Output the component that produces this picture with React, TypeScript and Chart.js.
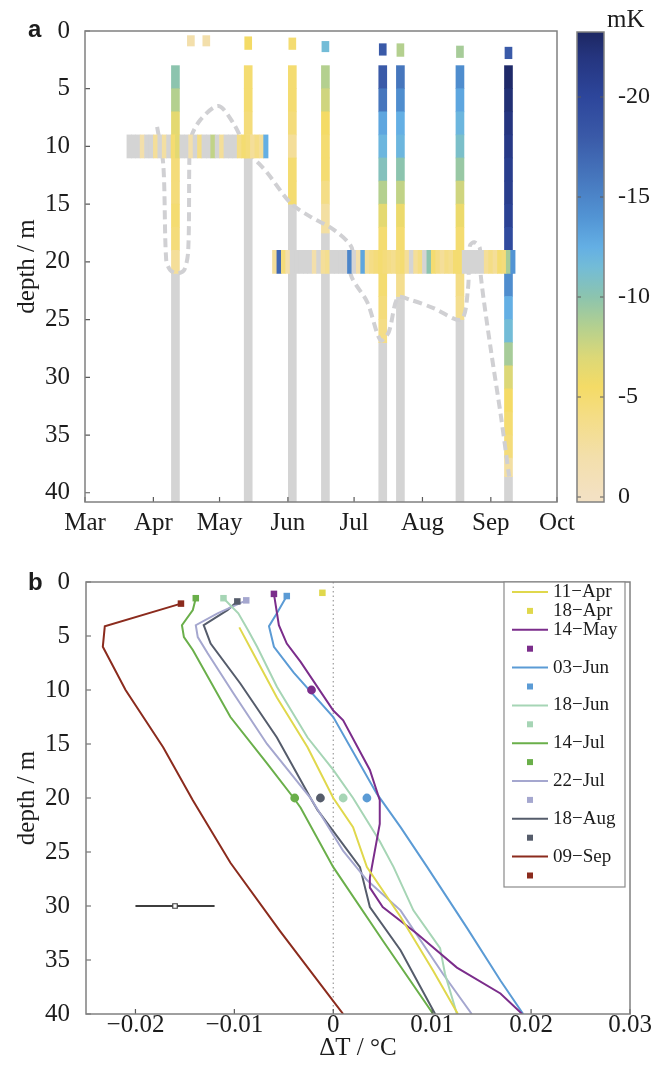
import React, { useEffect, useRef } from 'react';
import { Chart, registerables } from 'chart.js';

Chart.register(...registerables);

const SERIF = "'Liberation Serif', 'Times New Roman', Times, serif";
const SANS = "'Liberation Sans', Arial, Helvetica, sans-serif";
const TEXT = '#1c1c1c';
const FRAME = '#808080';
const GRAY = '#d4d4d4';

// ---------------- Panel a : data ----------------
const monthLabels = ['Mar', 'Apr', 'May', 'Jun', 'Jul', 'Aug', 'Sep', 'Oct'];
const monthDays = [0, 31, 61, 92, 122, 153, 184, 214]; // days since 1 March
const depthTicksA = [0, 5, 10, 15, 20, 25, 30, 35, 40];
const depthMaxA = 40.8;

// vertical profiles (date = days since 1 Mar)
const profileDays = [41, 74, 94, 109, 135, 143, 170, 192];
const colouredBottom = [21, 11, 15, 17.5, 27, 23, 25, 38.6];
const cellEdges = [3, 5, 7, 9, 11, 13, 15, 17, 19, 21, 23, 25, 27, 29, 31, 33, 35, 37, 39];
const cellsApr11 = [-10, -8.5, -6.5, -5.5, -4.5, -4.5, -5, -4.5, -3];
const cellsMay14 = [-5, -5, -4.5, -3.5];
const cellsJun03 = [-5, -5, -4.5, -3, -5, -5];
const cellsJun18 = [-8.5, -7.5, -5.5, -5, -5, -4, -2.5];
const cellsJul14 = [-18, -16, -13, -12, -10.5, -8.5, -6.5, -5, -5, -5, -4.5, -4];
const cellsJul22 = [-16, -14.5, -12.5, -12, -10, -8, -6, -5, -5, -3.5];
const cellsAug18 = [-14.5, -13, -12, -11, -9.5, -7.5, -6, -5, -5, -4, -3.5];
const cellsSep09 = [-23, -22.5, -22, -21.5, -21, -21, -20.5, -19.5, -17, -14.5, -12.5, -11.5, -9, -7, -5.5, -5, -4.5, -2.5];
const profileCells = [cellsApr11, cellsMay14, cellsJun03, cellsJun18, cellsJul14, cellsJul22, cellsAug18, cellsSep09];

// near-surface sensor
const surfaceDays = [48, 55, 74, 94, 109, 135, 143, 170, 192];
const surfaceTop = [0.4, 0.4, 0.5, 0.6, 0.9, 1.1, 1.1, 1.3, 1.4];
const surfaceBottom = [1.3, 1.3, 1.6, 1.6, 1.8, 2.1, 2.2, 2.3, 2.4];
const surfaceValues = [-2, -2, -5.5, -5, -11.5, -18, -8.5, -9, -18];

// mooring time series bands (2-day cells); null = no signal (grey)
const band1Depth = 10;
const band1StartDay = 19;
const band2Depth = 20;
const band2StartDay = 85;
const bandStepDays = 2;
const bandEdges = [9, 11, 19, 21];
const band1Values = [null, null, null, -2, null, null, -3, null, -2.5, null, -5, -6.5, null, null, -2, null,
  -4, null, null, -8, null, -3, null, null, null, -4, -5, -4.5, -3, -4, -3, -12.5];
const band2Values = [-3, -17, -4.5, -2, null, null, null, null, null, -2, null, -3, -3.5, null, null, null,
  null, -15, null, -2, -13, -3, -4, -4.5, -5, -4.5, -4, -3.5, -4.5, -5, -3, null, -3, -4, null, -10, -5, -4,
  -3, -4, -3.5, -5, -5, null, null, null, null, null, -3, -4, -3, -5, -4.5, -9, -14];

// mixed-layer depth (dashed)
const mldDays = [32.7, 35.5, 36.8, 38.6, 41.8, 45, 46.8, 47.3, 47.7, 52.3, 60.5, 67.3, 73.6, 82.7, 93.2, 102.3,
  112.7, 121, 120.5, 128, 134, 137.7, 141.8, 147.7, 158, 170.5, 173.6, 174.5, 176.5, 179, 179.5, 184, 188.6, 192.3];
const mldDepths = [8.3, 11.6, 19.8, 20.7, 21.0, 20.7, 19, 11.2, 9.4, 7.7, 6.5, 8.0, 10.3, 12.3, 14.9, 16.1,
  17.2, 18.8, 21.1, 23.5, 26.8, 26.1, 23.1, 23.3, 24, 25, 22.4, 18.6, 18.3, 18.8, 21.3, 27.6, 33.4, 38.6];

// colour map (mK)
const cmapValues = [0, -2, -4, -5.5, -7, -8.5, -10, -11.5, -12.5, -14, -16, -18, -20, -22, -23.3];
const cmapColors = ['#f3e1c3', '#f3dfab', '#f4dd86', '#f4db66', '#dcd877', '#b4d08f', '#8cc4ae', '#73bcd7',
  '#64afe4', '#5294d4', '#4676bd', '#3a5aa8', '#2d469b', '#25357f', '#1d2762'];
const colorbarMin = -23.25;
const colorbarMax = 0.25;
const colorbarTicks = [-20, -15, -10, -5, 0];

// ---------------- Panel b : data ----------------
const profileNames = ['11−Apr', '14−May', '03−Jun', '18−Jun', '14−Jul', '22−Jul', '18−Aug', '09−Sep'];
const squareNames = ['18−Apr', '', '', '', '', '', '', ''];
const profileColors = ['#e0d84c', '#7b2d8b', '#5b9bd5', '#a6d5b5', '#6aaf4a', '#a5a7cf', '#555c6b', '#8b2b1d'];

const dtApr11 = [-0.0095, -0.0081, -0.0057, -0.0026, 0, 0.002, 0.0034, 0.0068, 0.0101, 0.0126];
const zApr11 = [4.2, 6.6, 10.7, 15.3, 20, 22.7, 26.4, 31, 36, 40];
const dtMay14 = [-0.006, -0.0055, -0.0047, -0.0033, 0, 0.001, 0.0037, 0.0047, 0.0047, 0.0037, 0.0037, 0.005, 0.0085, 0.0125, 0.0169, 0.0191];
const zMay14 = [1.1, 4.0, 5.7, 7.4, 11.9, 12.8, 17.4, 20.2, 22.4, 27.4, 28.3, 30.1, 32.6, 35.7, 38.1, 40];
const dtJun03 = [-0.0047, -0.0057, -0.0065, -0.006, -0.004, 0, 0.0044, 0.0068, 0.0095, 0.0135, 0.0169, 0.0192];
const zJun03 = [1.3, 2.9, 4.1, 6.0, 8.4, 12.5, 19.6, 22.7, 26.4, 32, 36.9, 40];
const dtJun18 = [-0.0111, -0.0096, -0.0086, -0.0077, -0.0057, -0.0026, 0, 0.002, 0.0047, 0.0061, 0.0081, 0.0108, 0.0113, 0.0125];
const zJun18 = [1.5, 2.9, 4.5, 6.0, 9.7, 14.4, 17.4, 20, 24, 26.4, 30.4, 33.9, 36.3, 40];
const dtJul14 = [-0.0139, -0.0142, -0.0153, -0.0151, -0.0142, -0.0104, -0.0067, -0.004, -0.0033, 0, 0.005, 0.0101];
const zJul14 = [1.5, 2.6, 4.0, 5.1, 6.3, 12.5, 16.8, 20, 20.9, 26.4, 33.2, 40];
const dtJul22 = [-0.0088, -0.0117, -0.0139, -0.0137, -0.0127, -0.0101, -0.0067, -0.0023, 0.001, 0.0034, 0.0068, 0.0111, 0.014];
const zJul22 = [1.7, 2.9, 4.0, 5.1, 6.6, 10.3, 15, 20, 24.9, 27.6, 30.4, 36.3, 40];
const dtAug18 = [-0.0097, -0.0107, -0.0131, -0.0124, -0.0094, -0.0057, -0.0023, -0.0016, 0.0027, 0.0037, 0.0068, 0.0103];
const zAug18 = [1.8, 2.6, 4.0, 5.7, 9.4, 14.4, 20, 21.1, 26.4, 30.1, 34.1, 40];
const dtSep09 = [-0.0154, -0.0231, -0.0233, -0.021, -0.0172, -0.0142, -0.0104, -0.0054, 0, 0.001];
const zSep09 = [2.0, 4.1, 6.0, 10, 15.3, 20.2, 26, 32.3, 38.8, 40];
const profileDT = [dtApr11, dtMay14, dtJun03, dtJun18, dtJul14, dtJul22, dtAug18, dtSep09];
const profileZ = [zApr11, zMay14, zJun03, zJun18, zJul14, zJul22, zAug18, zSep09];

const squareDT = [-0.0011, -0.006, -0.0047, -0.0111, -0.0139, -0.0088, -0.0097, -0.0154];
const squareDepth = [1.0, 1.1, 1.3, 1.5, 1.5, 1.7, 1.8, 2.0];

const circleDT = [-0.0022, 0.0034, 0.001, -0.0039, -0.0013];
const circleDepth = [10, 20, 20, 20, 20];
const circleColors = ['#7b2d8b', '#5b9bd5', '#a6d5b5', '#6aaf4a', '#555c6b'];

const errDT = [-0.02, -0.016, -0.012];
const errDepth = 30;

const dtTicks = [-0.02, -0.01, 0, 0.01, 0.02, 0.03];
const depthTicksB = [0, 5, 10, 15, 20, 25, 30, 35, 40];

// ---------------- helpers ----------------
function hexToRgb(h: string) {
  const n = parseInt(h.slice(1), 16);
  return [(n >> 16) & 255, (n >> 8) & 255, n & 255];
}
function cmap(v: number) {
  if (v >= cmapValues[0]) return cmapColors[0];
  for (let i = 1; i < cmapValues.length; i++) {
    if (v >= cmapValues[i]) {
      const t = (cmapValues[i - 1] - v) / (cmapValues[i - 1] - cmapValues[i]);
      const a = hexToRgb(cmapColors[i - 1]);
      const b = hexToRgb(cmapColors[i]);
      const c = a.map((x, k) => Math.round(x + (b[k] - x) * t));
      return `rgb(${c[0]},${c[1]},${c[2]})`;
    }
  }
  return cmapColors[cmapColors.length - 1];
}

type TickSpec = { scale: string; side: 'left' | 'right' | 'bottom' | 'top' };
function framePlugin(id: string, specs: TickSpec[], len = 5) {
  return {
    id,
    afterDatasetsDraw(chart: any) {
      const { ctx, chartArea: a } = chart;
      ctx.save();
      ctx.strokeStyle = '#5a5a5a';
      ctx.lineWidth = 1.2;
      ctx.beginPath();
      specs.forEach((s) => {
        const sc = chart.scales[s.scale];
        sc.ticks.forEach((t: any) => {
          const p = sc.getPixelForValue(t.value);
          if (s.side === 'left') { ctx.moveTo(a.left, p); ctx.lineTo(a.left + len, p); }
          if (s.side === 'right') { ctx.moveTo(a.right, p); ctx.lineTo(a.right - len, p); }
          if (s.side === 'bottom') { ctx.moveTo(p, a.bottom); ctx.lineTo(p, a.bottom - len); }
          if (s.side === 'top') { ctx.moveTo(p, a.top); ctx.lineTo(p, a.top + len); }
        });
      });
      ctx.stroke();
      ctx.strokeStyle = FRAME;
      ctx.lineWidth = 1.5;
      ctx.strokeRect(a.left, a.top, a.right - a.left, a.bottom - a.top);
      ctx.restore();
    },
  };
}

const legendPlugin = {
  id: 'profileLegend',
  afterDraw(chart: any) {
    const { ctx, chartArea: a } = chart;
    const rowH = 18.9;
    const boxR = a.right - 5;
    const boxL = boxR - 121;
    const boxT = a.top;
    const boxB = boxT + 305;
    ctx.save();
    ctx.fillStyle = '#ffffff';
    ctx.fillRect(boxL, boxT, boxR - boxL, boxB - boxT);
    ctx.strokeStyle = '#8a8a8a';
    ctx.lineWidth = 1.2;
    ctx.strokeRect(boxL, boxT, boxR - boxL, boxB - boxT);
    ctx.font = `19px ${SERIF}`;
    ctx.textBaseline = 'middle';
    ctx.textAlign = 'left';
    let row = 0;
    profileNames.forEach((name, p) => {
      const y1 = boxT + 10 + row * rowH;
      ctx.strokeStyle = profileColors[p];
      ctx.lineWidth = 2;
      ctx.beginPath();
      ctx.moveTo(boxL + 8, y1);
      ctx.lineTo(boxL + 44, y1);
      ctx.stroke();
      ctx.fillStyle = TEXT;
      ctx.fillText(name, boxL + 49, y1);
      row++;
      const y2 = boxT + 10 + row * rowH;
      ctx.fillStyle = profileColors[p];
      ctx.fillRect(boxL + 23, y2 - 3, 6, 6);
      if (squareNames[p]) {
        ctx.fillStyle = TEXT;
        ctx.fillText(squareNames[p], boxL + 49, y2);
      }
      row++;
    });
    ctx.restore();
  },
};

export default function App() {
  const refA = useRef<HTMLCanvasElement>(null);
  const refC = useRef<HTMLCanvasElement>(null);
  const refB = useRef<HTMLCanvasElement>(null);

  useEffect(() => {
    const charts: Chart[] = [];
    const tickFont = { family: SERIF, size: 25 };

    // ---------- panel a ----------
    const vCells: any[] = [];
    const vColors: string[] = [];
    profileDays.forEach((d, p) => {
      const vals = profileCells[p];
      vals.forEach((v, i) => {
        const top = cellEdges[i];
        const bot = i === vals.length - 1 ? colouredBottom[p] : cellEdges[i + 1];
        vCells.push({ x: d, y: [top, bot] });
        vColors.push(cmap(v));
      });
    });
    const greyBars = profileDays.map((d, p) => ({ x: d, y: [colouredBottom[p], depthMaxA] }));
    const surf = surfaceDays.map((d, i) => ({ x: d, y: [surfaceTop[i], surfaceBottom[i]] }));
    const surfColors = surfaceValues.map((v) => cmap(v));
    const bandData: any[] = [];
    const bandColors: string[] = [];
    band1Values.forEach((v, i) => {
      bandData.push({ y: band1Depth, x: [band1StartDay + i * bandStepDays, band1StartDay + (i + 1) * bandStepDays] });
      bandColors.push(v === null ? GRAY : cmap(v));
    });
    band2Values.forEach((v, i) => {
      bandData.push({ y: band2Depth, x: [band2StartDay + i * bandStepDays, band2StartDay + (i + 1) * bandStepDays] });
      bandColors.push(v === null ? GRAY : cmap(v));
    });
    const mld = mldDays.map((d, i) => ({ x: d, y: mldDepths[i] }));

    if (refA.current) {
      charts.push(new Chart(refA.current, {
        type: 'bar',
        data: {
          datasets: [
            { type: 'bar', data: bandData, backgroundColor: bandColors, indexAxis: 'y', xAxisID: 'x', yAxisID: 'yb',
              grouped: false, barPercentage: 1, categoryPercentage: 1, borderWidth: 0, order: 1 } as any,
            { type: 'line', data: mld, borderColor: '#d0d0d3', borderWidth: 4, borderDash: [9, 5], pointRadius: 0,
              tension: 0.3, xAxisID: 'x', yAxisID: 'y', order: 2 } as any,
            { type: 'bar', data: vCells, backgroundColor: vColors, grouped: false, barThickness: 8, borderWidth: 0,
              xAxisID: 'x', yAxisID: 'y', order: 3 } as any,
            { type: 'bar', data: greyBars, backgroundColor: GRAY, grouped: false, barThickness: 8, borderWidth: 0,
              xAxisID: 'x', yAxisID: 'y', order: 3 } as any,
            { type: 'bar', data: surf, backgroundColor: surfColors, grouped: false, barThickness: 7, borderWidth: 0,
              xAxisID: 'x', yAxisID: 'y', order: 3 } as any,
          ],
        },
        options: {
          responsive: false,
          animation: false,
          devicePixelRatio: 1,
          layout: { padding: { left: 0, top: 31, right: 28, bottom: 0 } },
          plugins: { legend: { display: false }, tooltip: { enabled: false } },
          scales: {
            x: {
              type: 'linear', position: 'bottom', min: 0, max: 214, offset: false,
              grid: { display: false, offset: false }, border: { display: false },
              afterBuildTicks: (s: any) => { s.ticks = monthDays.map((v) => ({ value: v })); },
              afterFit: (s: any) => { s.height = 43; },
              ticks: {
                autoSkip: false, maxRotation: 0, padding: -2, color: TEXT, font: tickFont,
                callback: (v: any) => monthLabels[monthDays.indexOf(Number(v))] ?? '',
              },
            },
            y: {
              type: 'linear', position: 'left', min: 0, max: depthMaxA, reverse: true,
              grid: { display: false }, border: { display: false },
              afterBuildTicks: (s: any) => { s.ticks = depthTicksA.map((v) => ({ value: v })); },
              afterFit: (s: any) => { s.width = 85; },
              ticks: { padding: 7, color: TEXT, font: tickFont },
              title: { display: true, text: 'depth / m', color: TEXT, font: { family: SERIF, size: 25 }, padding: { top: 12, bottom: 0 } },
            },
            yb: {
              type: 'linear', axis: 'y', display: false, min: 0, max: depthMaxA, reverse: true, offset: false,
              afterBuildTicks: (s: any) => { s.ticks = bandEdges.map((v) => ({ value: v })); },
            },
          },
        } as any,
        plugins: [framePlugin('frameA', [{ scale: 'x', side: 'bottom' }, { scale: 'y', side: 'left' }])],
      }));
    }

    // ---------- colour bar ----------
    if (refC.current) {
      charts.push(new Chart(refC.current, {
        type: 'bar',
        data: {
          labels: [''],
          datasets: [{
            data: [[colorbarMin, colorbarMax]],
            barPercentage: 1, categoryPercentage: 1, borderWidth: 0,
            backgroundColor: (c: any) => {
              const chart = c.chart;
              const ys = chart.scales.y;
              if (!ys || !chart.chartArea) return cmapColors[3];
              const g = chart.ctx.createLinearGradient(0, ys.top, 0, ys.bottom);
              cmapValues.forEach((v, i) => {
                const f = (ys.getPixelForValue(v) - ys.top) / (ys.bottom - ys.top);
                g.addColorStop(Math.min(1, Math.max(0, f)), cmapColors[i]);
              });
              return g;
            },
          } as any],
        },
        options: {
          responsive: false,
          animation: false,
          devicePixelRatio: 1,
          layout: { padding: { left: 12, top: 32, right: 0, bottom: 43 } },
          plugins: { legend: { display: false }, tooltip: { enabled: false } },
          scales: {
            x: { display: false },
            y: {
              type: 'linear', position: 'right', min: colorbarMin, max: colorbarMax, reverse: true,
              grid: { display: false }, border: { display: false },
              afterBuildTicks: (s: any) => { s.ticks = colorbarTicks.map((v) => ({ value: v })); },
              afterFit: (s: any) => { s.width = 62; },
              ticks: { padding: 6, color: TEXT, font: { family: SERIF, size: 24 }, callback: (v: any) => String(v) },
            },
          },
        } as any,
        plugins: [framePlugin('frameC', [{ scale: 'y', side: 'left' }, { scale: 'y', side: 'right' }], 4)],
      }));
    }

    // ---------- panel b ----------
    if (refB.current) {
      const datasets: any[] = [];
      datasets.push({
        data: [{ x: 0, y: 0 }, { x: 0, y: 40 }], showLine: true, borderColor: '#9c9c9c', borderWidth: 1.2,
        borderDash: [1.5, 3], pointRadius: 0, order: 10,
      });
      profileNames.forEach((_, p) => {
        datasets.push({
          data: profileDT[p].map((x, i) => ({ x, y: profileZ[p][i] })), showLine: true,
          borderColor: profileColors[p], borderWidth: 2, pointRadius: 0, tension: 0, order: 5,
        });
      });
      datasets.push({
        data: errDT.map((x) => ({ x, y: errDepth })), showLine: true, borderColor: '#3e3e3e', borderWidth: 2,
        pointRadius: [0, 3.2, 0], pointStyle: 'rect', pointBackgroundColor: '#ffffff', pointBorderColor: '#3e3e3e',
        pointBorderWidth: 1.2, order: 4,
      });
      datasets.push({
        data: squareDT.map((x, i) => ({ x, y: squareDepth[i] })), showLine: false, pointStyle: 'rect',
        pointRadius: 4.6, backgroundColor: profileColors, borderColor: profileColors, borderWidth: 0, order: 2,
      });
      datasets.push({
        data: circleDT.map((x, i) => ({ x, y: circleDepth[i] })), showLine: false, pointStyle: 'circle',
        pointRadius: 4.4, backgroundColor: circleColors, borderColor: circleColors, borderWidth: 0, order: 1,
      });

      charts.push(new Chart(refB.current, {
        type: 'scatter',
        data: { datasets },
        options: {
          responsive: false,
          animation: false,
          devicePixelRatio: 1,
          layout: { padding: { left: 0, top: 52, right: 36, bottom: 0 } },
          plugins: { legend: { display: false }, tooltip: { enabled: false } },
          scales: {
            x: {
              type: 'linear', position: 'bottom', min: -0.025, max: 0.03,
              grid: { display: false }, border: { display: false },
              afterBuildTicks: (s: any) => { s.ticks = dtTicks.map((v) => ({ value: v })); },
              afterFit: (s: any) => { s.height = 51; },
              ticks: {
                autoSkip: false, maxRotation: 0, padding: -12, color: TEXT, font: tickFont,
                callback: (v: any) => (Number(v) < 0 ? '\u2212' + String(-Number(v)) : String(v)),
              },
              title: { display: true, text: 'ΔT / °C', color: TEXT, font: { family: SERIF, size: 25 }, padding: { top: 0, bottom: 2 } },
            },
            y: {
              type: 'linear', position: 'left', min: 0, max: 40, reverse: true,
              grid: { display: false }, border: { display: false },
              afterBuildTicks: (s: any) => { s.ticks = depthTicksB.map((v) => ({ value: v })); },
              afterFit: (s: any) => { s.width = 86; },
              ticks: { padding: 8, color: TEXT, font: tickFont },
              title: { display: true, text: 'depth / m', color: TEXT, font: { family: SERIF, size: 25 }, padding: { top: 12, bottom: 0 } },
            },
          },
        } as any,
        plugins: [framePlugin('frameB', [{ scale: 'x', side: 'bottom' }, { scale: 'y', side: 'left' }]), legendPlugin],
      }));
    }

    return () => { charts.forEach((c) => c.destroy()); };
  }, []);

  const letter: React.CSSProperties = {
    position: 'absolute', fontFamily: SANS, fontWeight: 'bold', fontSize: 24, lineHeight: '24px', color: TEXT,
  };
  return (
    <div style={{ position: 'absolute', left: 0, top: 0, width: 666, height: 1065, background: '#ffffff', overflow: 'hidden' }}>
      <canvas ref={refA} width={585} height={545} style={{ position: 'absolute', left: 0, top: 0 }} />
      <canvas ref={refC} width={101} height={545} style={{ position: 'absolute', left: 565, top: 0 }} />
      <canvas ref={refB} width={666} height={535} style={{ position: 'absolute', left: 0, top: 530 }} />
      <div style={{ ...letter, left: 28, top: 17 }}>a</div>
      <div style={{ ...letter, left: 28, top: 570 }}>b</div>
      <div style={{ position: 'absolute', left: 607, top: 6, fontFamily: SERIF, fontSize: 25, lineHeight: '25px', color: TEXT }}>mK</div>
    </div>
  );
}
